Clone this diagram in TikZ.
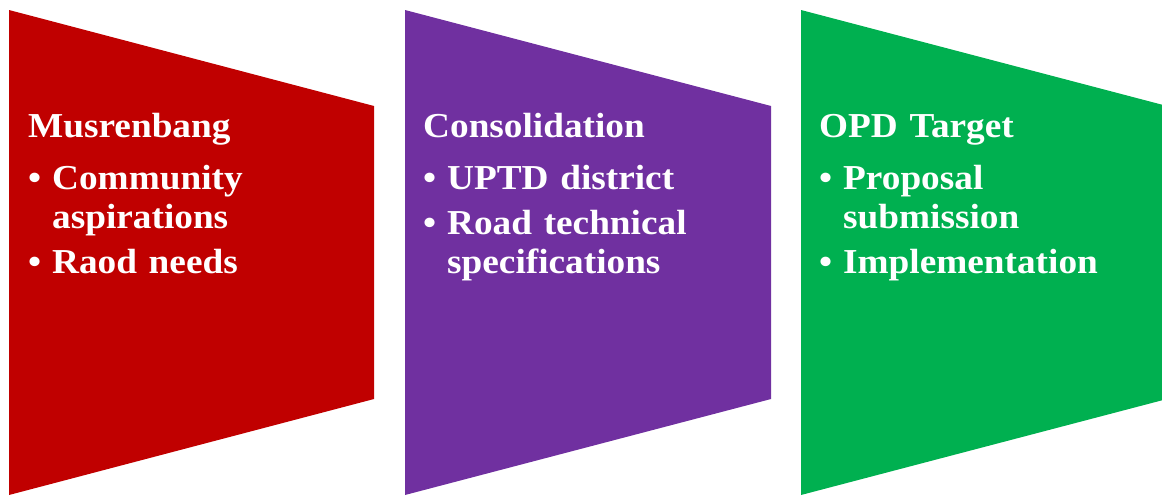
\documentclass[tikz,border=0pt]{standalone}
\usepackage{fontspec}
\setmainfont[FakeStretch=1.065]{Liberation Serif}
\usetikzlibrary{positioning}
\definecolor{stagered}{HTML}{C00000}
\definecolor{stagepurple}{HTML}{7030A0}
\definecolor{stagegreen}{HTML}{00B050}
\newcommand{\stagehead}[1]{\noindent #1\par\vspace{13pt}}
\newcommand{\stageitem}[1]{\hangindent=24pt\hangafter=1\noindent\makebox[24pt][l]{\textbullet}#1\par\vspace{6pt}}

\begin{document}
\begin{tikzpicture}[x=1pt, y=-1pt, stagetext/.style={anchor=base west, inner sep=0pt, text=white, text width=330pt, align=left, font=\fontsize{35}{39}\selectfont\bfseries}]
\useasboundingbox (0,0) rectangle (1162,496);
% three stages
\fill[stagered] (9,10) -- (374,106) -- (374,399) -- (9,495) -- cycle;
\fill[stagepurple] (405,10) -- (771,106) -- (771,399) -- (405,495) -- cycle;
\fill[stagegreen] (801,10) -- (1167,106) -- (1167,399) -- (801,495) -- cycle;
\node[stagetext] (musrenbang) at (28,137) {\stagehead{Musrenbang}\stageitem{Community\newline aspirations}\stageitem{Raod needs}};
\node[stagetext] (consolidation) at (423,137) {\stagehead{Consolidation}\stageitem{UPTD district}\stageitem{Road technical\newline specifications}};
\node[stagetext] (opdtarget) at (819,137) {\stagehead{OPD Target}\stageitem{Proposal\newline submission}\stageitem{Implementation}};
\end{tikzpicture}
\end{document}
